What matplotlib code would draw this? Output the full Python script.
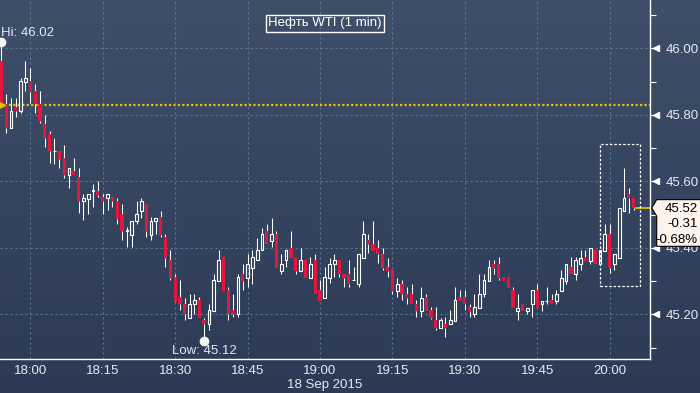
import numpy as np
import matplotlib
matplotlib.use('Agg')
import matplotlib.pyplot as plt
from matplotlib.patches import Rectangle, Polygon
from matplotlib import transforms as mtransforms

plt.rcParams['font.family'] = ['Liberation Sans', 'DejaVu Sans']

# chart data: WTI 1 minute candles, 18 Sep 2015
title = 'Нефть WTI (1 min)'
date_label = '18 Sep 2015'
first_time = '17:54'
time_ticks = ['18:00', '18:15', '18:30', '18:45', '19:00', '19:15', '19:30', '19:45', '20:00']
price_ticks = [45.20, 45.40, 45.60, 45.80, 46.00]
minor_ticks = [45.10, 45.30, 45.50, 45.70, 45.90, 46.10]
prev_close = 45.83
net_change = '-0.31'
pct_change = '-0.68%'

opens = [45.962, 45.832, 45.760, 45.822, 45.810, 45.900, 45.902, 45.872, 45.832, 45.773,
         45.743, 45.690, 45.692, 45.670, 45.620, 45.632, 45.612, 45.540, 45.548, 45.572,
         45.572, 45.552, 45.550, 45.552, 45.542, 45.502, 45.452, 45.440, 45.480, 45.510,
         45.532, 45.440, 45.480, 45.492, 45.432, 45.362, 45.312, 45.252, 45.232, 45.190,
         45.232, 45.242, 45.182, 45.172, 45.210, 45.300, 45.372, 45.272, 45.212, 45.200,
         45.322, 45.310, 45.340, 45.362, 45.392, 45.452, 45.420, 45.442, 45.330, 45.362,
         45.400, 45.372, 45.330, 45.362, 45.310, 45.362, 45.272, 45.250, 45.310, 45.352,
         45.362, 45.322, 45.322, 45.302, 45.292, 45.370, 45.422, 45.412, 45.400, 45.382,
         45.342, 45.332, 45.270, 45.292, 45.262, 45.262, 45.232, 45.210, 45.252, 45.212,
         45.182, 45.160, 45.172, 45.172, 45.180, 45.252, 45.252, 45.222, 45.200, 45.218,
         45.262, 45.300, 45.352, 45.352, 45.312, 45.312, 45.272, 45.210, 45.232, 45.210,
         45.232, 45.272, 45.230, 45.240, 45.242, 45.240, 45.270, 45.300, 45.342, 45.320,
         45.352, 45.372, 45.360, 45.392, 45.352, 45.390, 45.442, 45.352, 45.370, 45.510,
         45.562, 45.550]
highs = [46.020, 45.862, 45.850, 45.850, 45.910, 45.962, 45.940, 45.893, 45.872, 45.800,
         45.752, 45.730, 45.692, 45.710, 45.640, 45.670, 45.640, 45.562, 45.562, 45.593,
         45.602, 45.562, 45.562, 45.552, 45.550, 45.532, 45.462, 45.482, 45.542, 45.550,
         45.532, 45.492, 45.490, 45.512, 45.442, 45.392, 45.322, 45.302, 45.250, 45.262,
         45.262, 45.252, 45.190, 45.232, 45.322, 45.392, 45.372, 45.282, 45.262, 45.322,
         45.352, 45.382, 45.392, 45.430, 45.460, 45.472, 45.490, 45.452, 45.382, 45.392,
         45.452, 45.372, 45.400, 45.362, 45.372, 45.380, 45.302, 45.342, 45.370, 45.382,
         45.362, 45.322, 45.362, 45.342, 45.382, 45.482, 45.442, 45.482, 45.422, 45.400,
         45.370, 45.332, 45.310, 45.302, 45.282, 45.292, 45.242, 45.282, 45.262, 45.222,
         45.222, 45.190, 45.192, 45.212, 45.282, 45.272, 45.272, 45.232, 45.262, 45.322,
         45.322, 45.362, 45.362, 45.372, 45.312, 45.312, 45.282, 45.262, 45.232, 45.220,
         45.272, 45.292, 45.240, 45.282, 45.262, 45.272, 45.332, 45.352, 45.372, 45.372,
         45.392, 45.392, 45.400, 45.392, 45.392, 45.472, 45.472, 45.382, 45.520, 45.640,
         45.580, 45.550]
lows = [45.830, 45.745, 45.760, 45.793, 45.805, 45.873, 45.835, 45.805, 45.775, 45.702,
        45.655, 45.652, 45.640, 45.610, 45.580, 45.620, 45.505, 45.483, 45.503, 45.522,
        45.552, 45.503, 45.515, 45.522, 45.473, 45.422, 45.402, 45.402, 45.473, 45.490,
        45.432, 45.422, 45.442, 45.432, 45.342, 45.302, 45.242, 45.212, 45.182, 45.190,
        45.200, 45.190, 45.120, 45.152, 45.210, 45.300, 45.270, 45.182, 45.192, 45.192,
        45.272, 45.282, 45.292, 45.362, 45.392, 45.410, 45.402, 45.340, 45.322, 45.342,
        45.370, 45.322, 45.330, 45.310, 45.310, 45.260, 45.240, 45.250, 45.293, 45.312,
        45.312, 45.282, 45.282, 45.302, 45.282, 45.370, 45.384, 45.390, 45.353, 45.332,
        45.312, 45.262, 45.252, 45.242, 45.232, 45.230, 45.192, 45.192, 45.210, 45.185,
        45.152, 45.160, 45.132, 45.172, 45.180, 45.240, 45.212, 45.192, 45.192, 45.218,
        45.252, 45.300, 45.322, 45.302, 45.300, 45.278, 45.218, 45.182, 45.210, 45.202,
        45.192, 45.218, 45.210, 45.232, 45.230, 45.232, 45.270, 45.292, 45.320, 45.302,
        45.332, 45.360, 45.352, 45.350, 45.352, 45.390, 45.325, 45.332, 45.370, 45.510,
        45.505, 45.515]
closes = [45.835, 45.760, 45.810, 45.810, 45.902, 45.910, 45.870, 45.832, 45.780, 45.730,
          45.690, 45.690, 45.668, 45.620, 45.640, 45.620, 45.540, 45.550, 45.562, 45.572,
          45.560, 45.540, 45.562, 45.540, 45.488, 45.450, 45.452, 45.482, 45.502, 45.542,
          45.450, 45.482, 45.490, 45.440, 45.370, 45.310, 45.240, 45.232, 45.200, 45.232,
          45.242, 45.190, 45.172, 45.212, 45.302, 45.362, 45.270, 45.200, 45.200, 45.312,
          45.300, 45.352, 45.372, 45.392, 45.442, 45.410, 45.442, 45.340, 45.352, 45.392,
          45.370, 45.330, 45.362, 45.310, 45.352, 45.260, 45.240, 45.312, 45.352, 45.362,
          45.322, 45.308, 45.292, 45.302, 45.382, 45.442, 45.410, 45.390, 45.380, 45.338,
          45.330, 45.270, 45.292, 45.260, 45.250, 45.230, 45.210, 45.250, 45.210, 45.188,
          45.158, 45.182, 45.160, 45.182, 45.242, 45.240, 45.230, 45.210, 45.222, 45.262,
          45.302, 45.342, 45.340, 45.308, 45.300, 45.278, 45.218, 45.220, 45.210, 45.220,
          45.272, 45.218, 45.240, 45.240, 45.230, 45.262, 45.310, 45.352, 45.320, 45.362,
          45.370, 45.360, 45.400, 45.350, 45.392, 45.442, 45.340, 45.382, 45.520, 45.550,
          45.550, 45.520]

RED = '#e3163d'
YELLOW = '#e8c000'
TXT = '#e4eaf2'
GRID = '#587792'


def minutes(t):
    h, m = t.split(':')
    return int(h) * 60 + int(m)


o = np.array(opens)
h = np.array(highs)
l = np.array(lows)
c = np.array(closes)
x = np.arange(len(o))
up = c >= o
top = np.maximum(o, c)
bot = np.minimum(o, c)

fig = plt.figure(figsize=(7, 3.93), dpi=100)

# background gradient
bg = fig.add_axes([0, 0, 1, 1], zorder=-10)
grad = np.linspace(0, 1, 256)[:, None]
cmap = matplotlib.colors.LinearSegmentedColormap.from_list('bg', ['#3f4e69', '#35445f', '#2c3a56'])
bg.imshow(grad, aspect='auto', cmap=cmap, extent=[0, 1, 0, 1])
bg.axis('off')

ax = fig.add_axes([0, 34 / 393, 650 / 700, 359 / 393])
ax.set_facecolor('none')
ax.set_xlim(-0.28, 134.38)
ax.set_ylim(45.0656, 46.1453)

# grid
tick_x = [minutes(t) - minutes(first_time) for t in time_ticks]
for tx in tick_x:
    ax.axvline(tx, color=GRID, lw=0.8, ls=(0, (2, 2.5)), zorder=1)
for ty in price_ticks:
    ax.axhline(ty, color=GRID, lw=0.8, ls=(0, (2, 2.5)), zorder=1)

# wicks (split so hollow bodies stay empty)
ax.vlines(x, top, h, color='white', lw=0.75, zorder=3)
ax.vlines(x, l, bot, color='white', lw=0.75, zorder=3)

# bodies
ax.bar(x[~up], (top - bot)[~up], bottom=bot[~up], width=0.66, color=RED, lw=0, zorder=4)
ax.bar(x[up], np.maximum(top - bot, 0.0005)[up], bottom=bot[up], width=0.56,
       facecolor='none', edgecolor='white', lw=0.8, zorder=4)

# previous close and last price
ax.axhline(prev_close, color=YELLOW, lw=1.6, ls=(0, (1, 1)), zorder=2)
ax.plot([ax.get_xlim()[0]], [prev_close], marker='>', ms=7, color=YELLOW, clip_on=False, zorder=5)
ax.plot([x[-1] + 0.4, ax.get_xlim()[1]], [c[-1], c[-1]], color=YELLOW, lw=1.3, zorder=2)

# dashed box around the last bars
ax.add_patch(Rectangle((124.1, 45.285), 8.3, 0.427, fill=False, ec='white', lw=0.9,
                       ls=(0, (2, 1.5)), zorder=5))

# hi / low markers
ih = int(np.argmax(h))
il = int(np.argmin(l))
ax.plot(x[ih], h[ih], 'o', color='#f4f4f4', ms=6, clip_on=False, zorder=6)
ax.annotate(f'Hi: {h[ih]:.2f}', (x[ih], h[ih]), xytext=(0, 6.5), textcoords='offset points',
            ha='left', va='center', color=TXT, fontsize=9.5)
ax.plot(x[il], l[il], 'o', color='#f4f4f4', ms=6, clip_on=False, zorder=6)
ax.annotate(f'Low: {l[il]:.2f}', (x[il], l[il]), xytext=(0, -7.5), textcoords='offset points',
            ha='center', va='center', color=TXT, fontsize=9.5)

# title
ax.text(0.5, 0.9355, title, transform=ax.transAxes, ha='center', va='center', color='white',
        fontsize=9.5, bbox=dict(boxstyle='square,pad=0.2', fc='none', ec='white', lw=1))

# axes styling
for s in ['left', 'top']:
    ax.spines[s].set_visible(False)
for s in ['right', 'bottom']:
    ax.spines[s].set_color('white')
    ax.spines[s].set_linewidth(1)
ax.yaxis.tick_right()
ax.set_yticks(price_ticks)
ax.set_yticklabels([f'{p:.2f}' for p in price_ticks])
ax.set_yticks(minor_ticks, minor=True)
ax.tick_params(axis='y', which='major', length=4, width=0.8, color='white', pad=7,
               labelcolor=TXT, labelsize=9.5)
ax.tick_params(axis='y', which='minor', length=4, width=0.8, color='white')
ax.set_xticks(tick_x)
ax.set_xticklabels(time_ticks)
ax.tick_params(axis='x', length=0, pad=4, labelcolor=TXT, labelsize=9.5)
ax.text(0.5, -0.072, date_label, transform=ax.transAxes, ha='center', va='center',
        color=TXT, fontsize=9.5)

blend = mtransforms.blended_transform_factory(ax.transAxes, ax.transData)
ax.plot([1.0] * len(price_ticks), price_ticks, ls='none', marker='<', ms=5, color='white',
        clip_on=False, transform=blend + mtransforms.ScaledTranslation(0.055, 0, fig.dpi_scale_trans),
        zorder=6)

# last price callout
fig.canvas.draw()
px, py = blend.transform((1.0, c[-1]))
tr = mtransforms.Affine2D().translate(px, py)
ax.add_patch(Polygon([(6.7, 8.3), (1.7, 0), (6.7, -8.3), (6.7, -38.4), (60, -38.4), (60, 8.3)],
                     closed=True, fc='#fdf3ea', ec='black', lw=0.8, transform=tr,
                     clip_on=False, zorder=10))
for dy, s in zip([-0.7, -16.5, -31.8], [f'{c[-1]:.2f}', net_change, pct_change]):
    ax.text(47.7, dy, s, transform=tr, ha='right', va='center', color='black',
            fontsize=9.5, zorder=11, clip_on=False)

fig.savefig('out.png', dpi=100)
